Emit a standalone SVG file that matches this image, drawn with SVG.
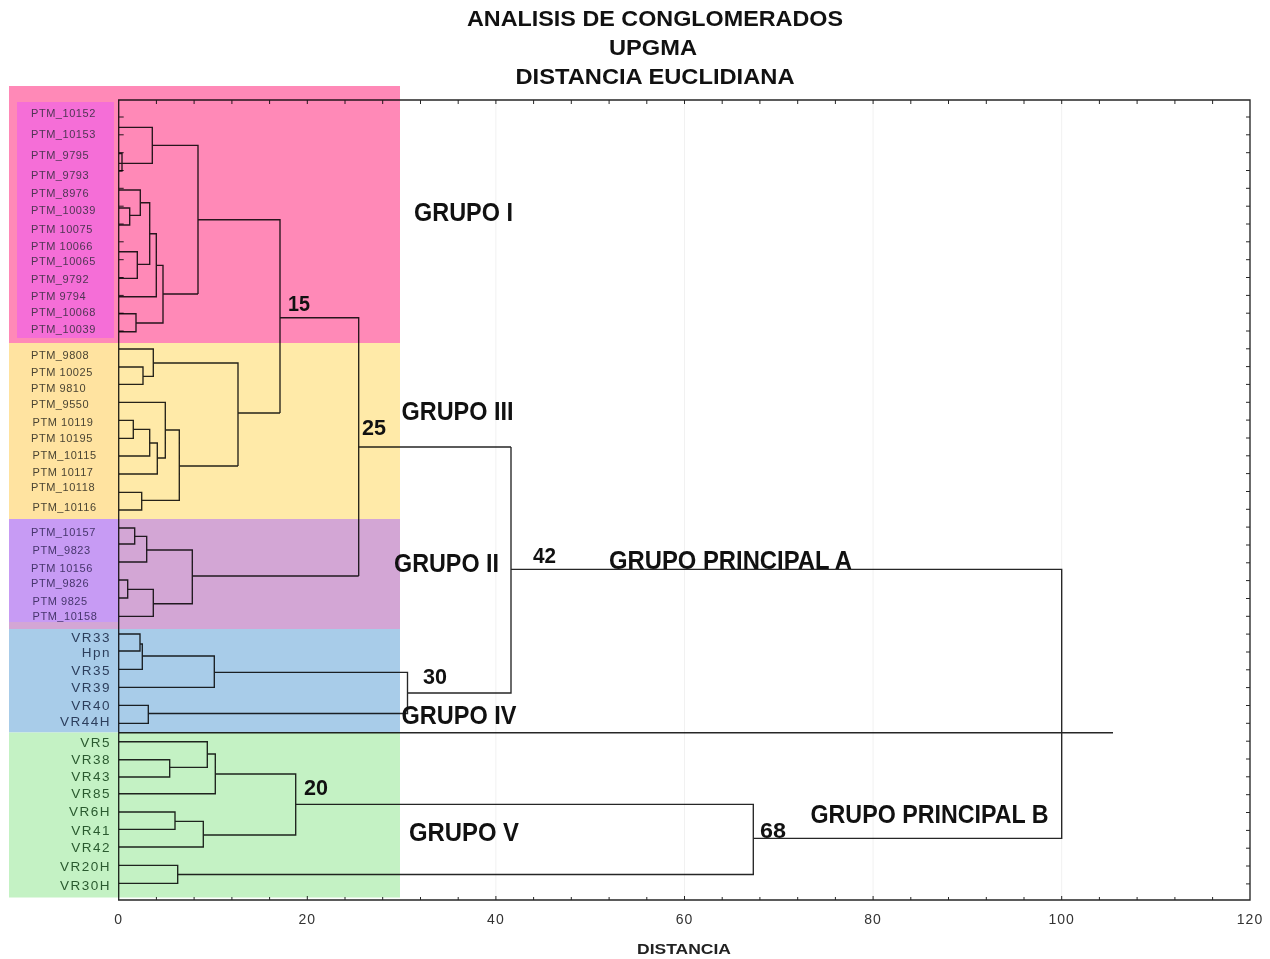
<svg xmlns="http://www.w3.org/2000/svg" width="1270" height="959" viewBox="0 0 1270 959">
<style>
text{font-family:"Liberation Sans",Arial,sans-serif}
.ptm{font-size:11px;letter-spacing:0.55px}
.c1{fill:#4e3553}.c3{fill:#4a4433}.c2{fill:#46356c}.c4{fill:#2c3e5c}.c5{fill:#2a5a2f}
.vr{font-size:13.5px;letter-spacing:1.5px;text-anchor:end}
.grp{font-size:25px;font-weight:bold;fill:#111}
.num{font-size:22px;font-weight:bold;fill:#111}
.ttl{font-size:22px;font-weight:bold;fill:#111;text-anchor:middle}
.ax{font-size:14px;fill:#333;text-anchor:middle;letter-spacing:1px}
.axt{font-size:14px;font-weight:bold;fill:#222;text-anchor:middle}
.ink{mix-blend-mode:multiply}
.ink path{fill:none;stroke:#262626;stroke-width:1.35}
.grid line{stroke:#f1f1f1;stroke-width:1}
</style>
<rect width="1270" height="959" fill="#ffffff"/>
<g class="grid">
<line x1="307.3" y1="100" x2="307.3" y2="900"/>
<line x1="495.9" y1="100" x2="495.9" y2="900"/>
<line x1="684.5" y1="100" x2="684.5" y2="900"/>
<line x1="873.1" y1="100" x2="873.1" y2="900"/>
<line x1="1061.7" y1="100" x2="1061.7" y2="900"/>
</g>
<g id="bands">
<rect x="9" y="86" width="391" height="257" fill="#ff89b7"/>
<rect x="17" y="102" width="97" height="236" fill="#f56ed7"/>
<rect x="9" y="343" width="391" height="176" fill="#ffeaa8"/>
<rect x="9" y="343" width="109" height="176" fill="#ffe3a0"/>
<rect x="9" y="519" width="391" height="110" fill="#d3a6d5"/>
<rect x="9" y="519" width="109" height="103" fill="#c79bf4"/>
<rect x="9" y="629" width="391" height="103.5" fill="#a8cce9"/>
<rect x="9" y="732.5" width="391" height="165" fill="#c4f2c4"/>
</g>
<g id="axes" class="ink">
<path d="M118.7 100 V900 H1250 V100 Z"/>
<path style="stroke-width:1" d="M118.7 117 h5 M118.7 134.8 h5 M118.7 152.7 h5 M118.7 170.5 h5 M118.7 188.3 h5 M118.7 206.2 h5 M118.7 224 h5 M118.7 241.8 h5 M118.7 259.7 h5 M118.7 277.5 h5 M118.7 295.4 h5 M118.7 313.2 h5 M118.7 331 h5
M1250 117 h-4 M1250 134.8 h-4 M1250 152.7 h-4 M1250 170.5 h-4 M1250 188.3 h-4 M1250 206.2 h-4 M1250 224 h-4 M1250 241.8 h-4 M1250 259.7 h-4 M1250 277.5 h-4 M1250 295.4 h-4 M1250 313.2 h-4 M1250 331 h-4 M1250 348.8 h-4 M1250 366.6 h-4 M1250 384.4 h-4 M1250 402.3 h-4 M1250 420.1 h-4 M1250 438 h-4 M1250 455.8 h-4 M1250 473.6 h-4 M1250 491.5 h-4 M1250 509.3 h-4 M1250 527.1 h-4 M1250 545 h-4 M1250 562.8 h-4 M1250 580.6 h-4 M1250 598.5 h-4 M1250 616.3 h-4 M1250 634.1 h-4 M1250 652 h-4 M1250 669.8 h-4 M1250 687.6 h-4 M1250 705.5 h-4 M1250 723.3 h-4 M1250 741.2 h-4 M1250 759 h-4 M1250 776.8 h-4 M1250 794.7 h-4 M1250 812.5 h-4 M1250 830.4 h-4 M1250 848.2 h-4 M1250 866 h-4 M1250 883.9 h-4
M156.4 100 v4 M194.1 100 v4 M231.9 100 v4 M269.6 100 v4 M307.3 100 v4 M345 100 v4 M382.7 100 v4 M420.5 100 v4 M458.2 100 v4 M495.9 100 v4 M533.6 100 v4 M571.3 100 v4 M609.1 100 v4 M646.8 100 v4 M684.5 100 v4 M722.2 100 v4 M759.9 100 v4 M797.7 100 v4 M835.4 100 v4 M873.1 100 v4 M910.8 100 v4 M948.5 100 v4 M986.3 100 v4 M1024 100 v4 M1061.7 100 v4 M1099.4 100 v4 M1137.1 100 v4 M1174.9 100 v4 M1212.6 100 v4
M156.4 900 v-3 M194.1 900 v-3 M231.9 900 v-3 M269.6 900 v-3 M307.3 900 v-4 M345 900 v-3 M382.7 900 v-3 M420.5 900 v-3 M458.2 900 v-3 M495.9 900 v-4 M533.6 900 v-3 M571.3 900 v-3 M609.1 900 v-3 M646.8 900 v-3 M684.5 900 v-4 M722.2 900 v-3 M759.9 900 v-3 M797.7 900 v-3 M835.4 900 v-3 M873.1 900 v-4 M910.8 900 v-3 M948.5 900 v-3 M986.3 900 v-3 M1024 900 v-3 M1061.7 900 v-4 M1099.4 900 v-3 M1137.1 900 v-3 M1174.9 900 v-3 M1212.6 900 v-3"/>
</g>
<g id="connectors" class="ink">
<path d="M119 127.3 H152.3 V163.3 H119 M119 153.5 H122 V171 H119 M152.3 145.3 H198 V294 M198 219.7 H280 V413"/>
<path d="M119 190 H140.3 V215.3 H129.7 M119 208 H129.7 V225 H119 M140.3 202.7 H149.7 V264.3 H137.3 M119 251.7 H137.3 V278.3 H119 M149.7 233.7 H156.3 V296.7 H119 M156.3 265.3 H163 V323 H136 M119 313.7 H136 V331.7 H119 M163 294 H198"/>
<path d="M280 317.7 H358.7 V576 M358.7 447 H511"/>
<path d="M119 349 H153.3 V376.3 H143 M119 367 H143 V384.3 H119 M153.3 363 H238 V466 M238 413 H280"/>
<path d="M119 402.3 H165.3 V458 H157.3 M119 420.3 H133.3 V438.3 H119 M133.3 429.3 H149.7 V456 H119 M149.7 443 H157.3 V474 H119 M165.3 430 H179.3 V500.3 H141.7 M119 492.3 H141.7 V510 H119 M179.3 466 H238"/>
<path d="M119 528 H134.7 V544 H119 M134.7 536.3 H146.7 V562 H119 M146.7 550 H192.3 V603.7 H153.3 M119 580 H127.7 V598 H119 M127.7 589.3 H153.3 V616.3 H119 M192.3 576 H358.7"/>
<path d="M119 634 H140 V651 H119 M140 644 H142.3 V669.3 H119 M142.3 656 H214.3 V687.3 H119 M214.3 672.3 H407.5 V713.5 H148.3 M119 705.3 H148.3 V723.3 H119 M407.5 693 H511 V447 M511 569.3 H1061.7 V838.3 H753.3"/>
<path d="M119 732.7 H1113"/>
<path d="M119 741.7 H207.3 V767.3 H169.7 M119 759.7 H169.7 V777 H119 M207.3 754 H215.3 V793.7 H119 M215.3 774 H295.7 V835 H203.3 M119 812 H175 V829.3 H119 M175 821.3 H203.3 V847 H119 M295.7 804.3 H753.3 V874.5 H177.7 M119 865.3 H177.7 V883.3 H119"/>
</g>
<g id="title">
<text class="ttl" x="655" y="26" textLength="376" lengthAdjust="spacingAndGlyphs">ANALISIS DE CONGLOMERADOS</text>
<text class="ttl" x="653" y="55" textLength="88" lengthAdjust="spacingAndGlyphs">UPGMA</text>
<text class="ttl" x="655" y="84" textLength="279" lengthAdjust="spacingAndGlyphs">DISTANCIA EUCLIDIANA</text>
</g>
<g id="leaves-I" class="ptm c1">
<g id="leaf-01"><text x="31" y="117.2">PTM_10152</text></g>
<g id="leaf-02"><text x="31" y="138.3">PTM_10153</text></g>
<g id="leaf-03"><text x="31" y="159.3">PTM_9795</text></g>
<g id="leaf-04"><text x="31" y="179">PTM_9793</text></g>
<g id="leaf-05"><text x="31" y="197.2">PTM_8976</text></g>
<g id="leaf-06"><text x="31" y="213.7">PTM_10039</text></g>
<g id="leaf-07"><text x="31" y="233">PTM 10075</text></g>
<g id="leaf-08"><text x="31" y="249.7">PTM 10066</text></g>
<g id="leaf-09"><text x="31" y="264.7">PTM_10065</text></g>
<g id="leaf-10"><text x="31" y="283">PTM_9792</text></g>
<g id="leaf-11"><text x="31" y="300">PTM 9794</text></g>
<g id="leaf-12"><text x="31" y="315.7">PTM_10068</text></g>
<g id="leaf-13"><text x="31" y="333">PTM_10039</text></g>
</g>
<g id="leaves-III" class="ptm c3">
<g id="leaf-14"><text x="31" y="359">PTM_9808</text></g>
<g id="leaf-15"><text x="31" y="376.3">PTM 10025</text></g>
<g id="leaf-16"><text x="31" y="392.3">PTM 9810</text></g>
<g id="leaf-17"><text x="31" y="408">PTM_9550</text></g>
<g id="leaf-18"><text x="32.5" y="426">PTM 10119</text></g>
<g id="leaf-19"><text x="31" y="442">PTM 10195</text></g>
<g id="leaf-20"><text x="32.5" y="458.7">PTM_10115</text></g>
<g id="leaf-21"><text x="32.5" y="475.7">PTM 10117</text></g>
<g id="leaf-22"><text x="31" y="490.7">PTM_10118</text></g>
<g id="leaf-23"><text x="32.5" y="511.3">PTM_10116</text></g>
</g>
<g id="leaves-II" class="ptm c2">
<g id="leaf-24"><text x="31" y="536.3">PTM_10157</text></g>
<g id="leaf-25"><text x="32.5" y="554.3">PTM_9823</text></g>
<g id="leaf-26"><text x="31" y="572">PTM 10156</text></g>
<g id="leaf-27"><text x="31" y="587">PTM_9826</text></g>
<g id="leaf-28"><text x="32.5" y="604.7">PTM 9825</text></g>
<g id="leaf-29"><text x="32.5" y="619.7">PTM_10158</text></g>
</g>
<g id="leaves-IV" class="vr c4">
<g id="leaf-30"><text x="111" y="642">VR33</text></g>
<g id="leaf-31"><text x="111" y="657">Hpn</text></g>
<g id="leaf-32"><text x="111" y="674.7">VR35</text></g>
<g id="leaf-33"><text x="111" y="692.4">VR39</text></g>
<g id="leaf-34"><text x="111" y="710">VR40</text></g>
<g id="leaf-35"><text x="111" y="726">VR44H</text></g>
</g>
<g id="leaves-V" class="vr c5">
<g id="leaf-36"><text x="111" y="746.7">VR5</text></g>
<g id="leaf-37"><text x="111" y="764">VR38</text></g>
<g id="leaf-38"><text x="111" y="781.4">VR43</text></g>
<g id="leaf-39"><text x="111" y="798">VR85</text></g>
<g id="leaf-40"><text x="111" y="816.4">VR6H</text></g>
<g id="leaf-41"><text x="111" y="834.7">VR41</text></g>
<g id="leaf-42"><text x="111" y="852.4">VR42</text></g>
<g id="leaf-43"><text x="111" y="871.4">VR20H</text></g>
<g id="leaf-44"><text x="111" y="889.7">VR30H</text></g>
</g>
<g id="group-labels">
<g id="grupo-I"><text class="grp" x="414" y="221" textLength="99" lengthAdjust="spacingAndGlyphs">GRUPO I</text></g>
<g id="grupo-III"><text class="grp" x="401.5" y="420" textLength="112" lengthAdjust="spacingAndGlyphs">GRUPO III</text></g>
<g id="grupo-II"><text class="grp" x="394" y="571.5" textLength="105" lengthAdjust="spacingAndGlyphs">GRUPO II</text></g>
<g id="grupo-IV"><text class="grp" x="401.5" y="724" textLength="115" lengthAdjust="spacingAndGlyphs">GRUPO IV</text></g>
<g id="grupo-V"><text class="grp" x="409" y="841" textLength="110" lengthAdjust="spacingAndGlyphs">GRUPO V</text></g>
<g id="grupo-principal-A"><text class="grp" x="609" y="568.5" textLength="243" lengthAdjust="spacingAndGlyphs">GRUPO PRINCIPAL A</text></g>
<g id="grupo-principal-B"><text class="grp" x="810.5" y="822.5" textLength="238" lengthAdjust="spacingAndGlyphs">GRUPO PRINCIPAL B</text></g>
</g>
<g id="distances">
<text class="num" x="288" y="311" textLength="22" lengthAdjust="spacingAndGlyphs">15</text>
<text class="num" x="362" y="435" textLength="24" lengthAdjust="spacingAndGlyphs">25</text>
<text class="num" x="533" y="562.5" textLength="23" lengthAdjust="spacingAndGlyphs">42</text>
<text class="num" x="423" y="684" textLength="24" lengthAdjust="spacingAndGlyphs">30</text>
<text class="num" x="304" y="795" textLength="24" lengthAdjust="spacingAndGlyphs">20</text>
<text class="num" x="760" y="838" textLength="26" lengthAdjust="spacingAndGlyphs">68</text>
</g>
<g id="x-axis-labels">
<text class="ax" x="118.7" y="924">0</text>
<text class="ax" x="307.3" y="924">20</text>
<text class="ax" x="495.9" y="924">40</text>
<text class="ax" x="684.5" y="924">60</text>
<text class="ax" x="873.1" y="924">80</text>
<text class="ax" x="1061.7" y="924">100</text>
<text class="ax" x="1250" y="924">120</text>
<text class="axt" x="684" y="954" textLength="94" lengthAdjust="spacingAndGlyphs">DISTANCIA</text>
</g>
</svg>
